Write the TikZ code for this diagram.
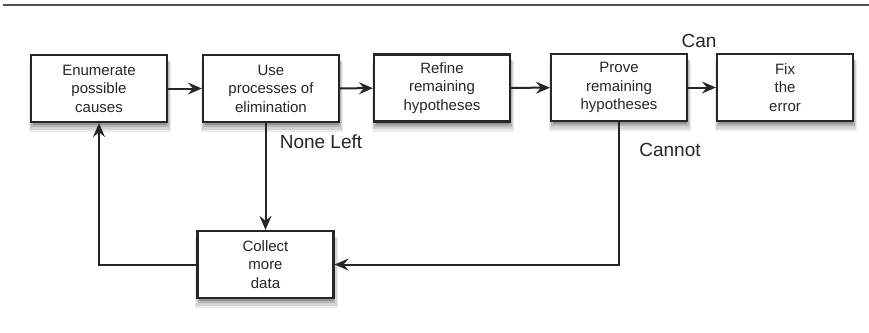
\documentclass[tikz,border=0pt]{standalone}
\usepackage{fontspec}
\setmainfont{Liberation Sans}
\usetikzlibrary{arrows.meta,shadows}
\definecolor{ink}{HTML}{262626}
\tikzset{
  box/.style={draw=ink, line width=2.2pt, fill=white, minimum width=136pt, minimum height=67pt,
    inner sep=0pt, align=center, font=\fontsize{15}{18.5}\selectfont, text=ink,
    drop shadow={shadow xshift=1pt, shadow yshift=-8pt, shadow scale=1.05, opacity=0.08, fill=black},
    drop shadow={shadow xshift=1pt, shadow yshift=-6.5pt, shadow scale=1.03, opacity=0.10, fill=black},
    drop shadow={shadow xshift=1pt, shadow yshift=-5pt, shadow scale=1.01, opacity=0.14, fill=black},
    drop shadow={shadow xshift=1pt, shadow yshift=-3.5pt, shadow scale=0.99, opacity=0.18, fill=black}},
  conn/.style={draw=ink, line width=2pt, -{Stealth[length=14pt,width=12pt,inset=5pt]}},
  lbl/.style={font=\fontsize{19}{22}\selectfont, text=ink}
}
\begin{document}
\begin{tikzpicture}[x=1pt,y=-1pt]
\useasboundingbox (0,0) rectangle (869,332);
\draw[draw=ink!80, line width=2pt] (3,5) -- (869,5);
\node[box] (b1) at (99,88.5) {Enumerate\\possible\\causes};
\node[box] (b2) at (271,88.5) {Use\\processes of\\elimination};
\node[box] (b3) at (442,88) {Refine\\remaining\\hypotheses};
\node[box] (b4) at (619,87.5) {Prove\\remaining\\hypotheses};
\node[box] (b5) at (785,87.5) {Fix\\the\\error};
\node[box] (b6) at (265.5,264.5) {Collect\\more\\data};
\draw[conn] (b1) -- (b2);
\draw[conn] (b2) -- (b3);
\draw[conn] (b3) -- (b4);
\draw[conn] (b4) -- (b5);
\draw[conn] (b2.south -| b6.north) -- (b6.north);
\draw[conn] (b4.south) |- (b6.east);
\draw[conn] (b6.west) -| (b1.south);
\node[lbl] (none) at (321,142) {None Left};
\node[lbl] (cannot) at (670,150) {Cannot};
\node[lbl] (can) at (699,41) {Can};
\end{tikzpicture}
\end{document}
